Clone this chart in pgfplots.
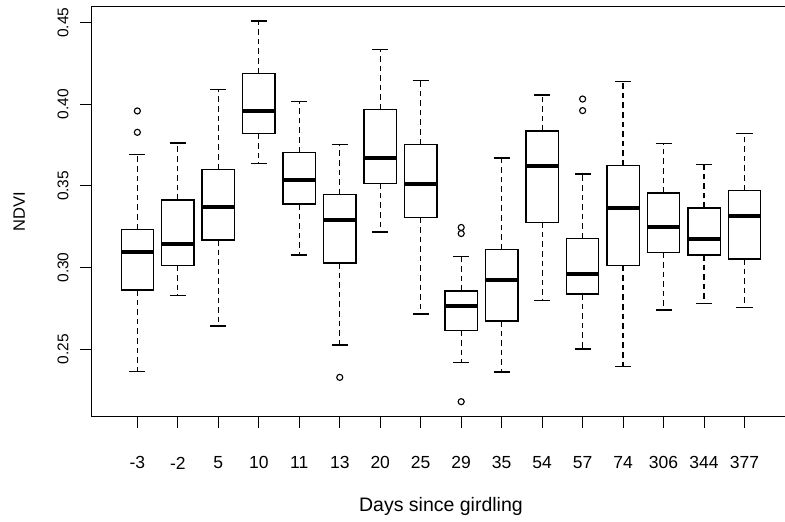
\documentclass[border=0pt]{standalone}
\usepackage{fontspec}
\setmainfont{Liberation Sans}
\usepackage{graphicx}
\usepackage{pgfplots}
\pgfplotsset{compat=1.18}
\usepgfplotslibrary{statistics}
\usetikzlibrary{calc}

% drawn at 1/8 size and scaled up by \scalebox (keeps pgf unit vectors small)
\pgfplotsset{
  rbox/.style={
    black, line width=0.16bp, solid,
    mark=o, mark size=0.38bp, mark options={solid, line width=0.14bp},
    boxplot/draw direction=y,
    boxplot/box extend=0.8,
    boxplot/whisker extend=0.4,
    boxplot/every median/.style={line width=0.5bp},
    boxplot/draw/lower whisker/.code={%
      \draw[dash pattern=on 0.7bp off 0.5bp]
        (boxplot cs:\pgfplotsboxplotvalue{lower quartile})
        -- (boxplot cs:\pgfplotsboxplotvalue{lower whisker});
      \draw (boxplot whisker cs:\pgfplotsboxplotvalue{lower whisker},0)
        -- (boxplot whisker cs:\pgfplotsboxplotvalue{lower whisker},1);
    },
    boxplot/draw/upper whisker/.code={%
      \draw[dash pattern=on 0.7bp off 0.5bp]
        (boxplot cs:\pgfplotsboxplotvalue{upper quartile})
        -- (boxplot cs:\pgfplotsboxplotvalue{upper whisker});
      \draw (boxplot whisker cs:\pgfplotsboxplotvalue{upper whisker},0)
        -- (boxplot whisker cs:\pgfplotsboxplotvalue{upper whisker},1);
    },
  },
}

\begin{document}
\scalebox{8}{%
\begin{tikzpicture}
\begin{axis}[
  name=ax,
  scale only axis,
  width=87.4375bp, height=51.3bp,
  xmin=-0.14, xmax=17.14,
  ymin=0.2086, ymax=0.4600,
  axis line style={line width=0.16bp, black},
  xtick={1,...,16},
  xticklabels={-3,-2,5,10,11,13,20,25,29,35,54,57,74,306,344,377},
  ytick={0.25,0.30,0.35,0.40,0.45},
  yticklabels={0.25,0.30,0.35,0.40,0.45},
  tick align=outside,
  xtick pos=bottom, ytick pos=left,
  major tick length=1.4bp,
  tick style={line width=0.14bp, black},
  tick label style={inner sep=0.3bp},
  xticklabel style={font=\fontsize{2.1875bp}{2.6bp}\selectfont, anchor=center, yshift=-4.375bp},
  yticklabel style={font=\fontsize{1.9375bp}{2.3bp}\selectfont, rotate=90, anchor=center, yshift=2.125bp},
  xlabel={Days since girdling},
  ylabel={NDVI},
  xlabel style={font=\fontsize{2.4375bp}{2.8bp}\selectfont, inner sep=0.3bp,
    at={(axis description cs:0.5,0)}, anchor=center, yshift=-11.25bp},
  ylabel style={font=\fontsize{2.0625bp}{2.4bp}\selectfont, inner sep=0.3bp,
    at={(axis description cs:-0.1029,0.5)}, anchor=center},
  clip=false,
]
% -3
\addplot[rbox, boxplot prepared={draw position=1, lower whisker=0.2362, lower quartile=0.2862, median=0.3093, upper quartile=0.3234, upper whisker=0.3694}]
  table[row sep=\\, y index=0] {y\\ 0.3959\\ 0.3828\\};
% -2
\addplot[rbox, boxplot prepared={draw position=2, lower whisker=0.2830, lower quartile=0.3011, median=0.3142, upper quartile=0.3414, upper whisker=0.3763}]
  coordinates {};
% 5
\addplot[rbox, boxplot prepared={draw position=3, lower whisker=0.2642, lower quartile=0.3169, median=0.3373, upper quartile=0.3602, upper whisker=0.4090}]
  coordinates {};
% 10
\addplot[rbox, boxplot prepared={draw position=4, lower whisker=0.3636, lower quartile=0.3820, median=0.3959, upper quartile=0.4190, upper whisker=0.4510}]
  coordinates {};
% 11
\addplot[rbox, boxplot prepared={draw position=5, lower whisker=0.3077, lower quartile=0.3389, median=0.3538, upper quartile=0.3706, upper whisker=0.4016}]
  coordinates {};
% 13
\addplot[rbox, boxplot prepared={draw position=6, lower whisker=0.2525, lower quartile=0.3028, median=0.3291, upper quartile=0.3448, upper whisker=0.3752}]
  table[row sep=\\, y index=0] {y\\ 0.2327\\};
% 20
\addplot[rbox, boxplot prepared={draw position=7, lower whisker=0.3218, lower quartile=0.3516, median=0.3671, upper quartile=0.3967, upper whisker=0.4335}]
  coordinates {};
% 25
\addplot[rbox, boxplot prepared={draw position=8, lower whisker=0.2715, lower quartile=0.3307, median=0.3514, upper quartile=0.3755, upper whisker=0.4147}]
  coordinates {};
% 29
\addplot[rbox, boxplot prepared={draw position=9, lower whisker=0.2417, lower quartile=0.2615, median=0.2764, upper quartile=0.2856, upper whisker=0.3066}]
  table[row sep=\\, y index=0] {y\\ 0.3245\\ 0.3208\\ 0.2178\\};
% 35
\addplot[rbox, boxplot prepared={draw position=10, lower whisker=0.2360, lower quartile=0.2672, median=0.2921, upper quartile=0.3111, upper whisker=0.3671}]
  coordinates {};
% 54
\addplot[rbox, boxplot prepared={draw position=11, lower whisker=0.2797, lower quartile=0.3277, median=0.3622, upper quartile=0.3836, upper whisker=0.4057}]
  coordinates {};
% 57
\addplot[rbox, boxplot prepared={draw position=12, lower whisker=0.2500, lower quartile=0.2838, median=0.2962, upper quartile=0.3177, upper whisker=0.3573}]
  table[row sep=\\, y index=0] {y\\ 0.4032\\ 0.3961\\};
% 74
\addplot[rbox, boxplot prepared={draw position=13, lower whisker=0.2392, lower quartile=0.3011, median=0.3365, upper quartile=0.3624, upper whisker=0.4141}]
  coordinates {};
% 306
\addplot[rbox, boxplot prepared={draw position=14, lower whisker=0.2740, lower quartile=0.3093, median=0.3250, upper quartile=0.3457, upper whisker=0.3761}]
  coordinates {};
% 344
\addplot[rbox, boxplot prepared={draw position=15, lower whisker=0.2781, lower quartile=0.3077, median=0.3177, upper quartile=0.3365, upper whisker=0.3630}]
  coordinates {};
% 377
\addplot[rbox, boxplot prepared={draw position=16, lower whisker=0.2756, lower quartile=0.3052, median=0.3316, upper quartile=0.3473, upper whisker=0.3820}]
  coordinates {};
\end{axis}
\pgfresetboundingbox
\path[use as bounding box] ($(ax.south west)+(-11.4bp,-13.1625bp)$) rectangle ($(ax.south west)+(86.725bp,52.0875bp)$);
\end{tikzpicture}%
}
\end{document}
